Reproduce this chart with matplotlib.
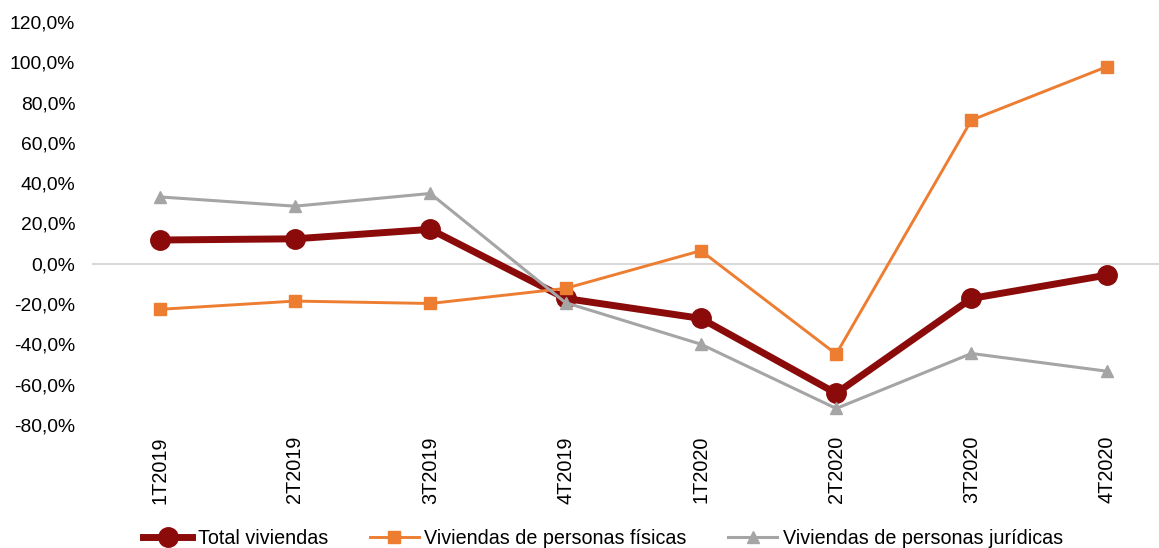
import numpy as np
import matplotlib.pyplot as plt
from matplotlib.ticker import FuncFormatter

plt.rcParams['font.family'] = ['Liberation Sans', 'DejaVu Sans']

# data
trimestres = ['1T2019', '2T2019', '3T2019', '4T2019', '1T2020', '2T2020', '3T2020', '4T2020']
total = [11.8, 12.4, 17.1, -17.2, -27.1, -64.3, -17.2, -5.6]
fisicas = [-22.6, -18.5, -19.7, -12.2, 6.5, -44.8, 71.3, 97.8]
juridicas = [33.2, 28.6, 34.9, -19.3, -39.9, -71.8, -44.5, -53.3]

series = [
    ('Total viviendas', total, '#8B0A0A', 'o', 5.0, 14),
    ('Viviendas de personas físicas', fisicas, '#ED7D31', 's', 2.1, 9),
    ('Viviendas de personas jurídicas', juridicas, '#A5A5A5', '^', 2.2, 9),
]

fig = plt.figure(figsize=(11.59, 5.48), dpi=100)
ax = fig.add_axes([92 / 1159, 1 - 425 / 548, 1 - 92 / 1159, (425 - 22) / 548])

x = np.arange(len(trimestres))
for name, vals, col, mk, lw, ms in series:
    ax.plot(x, vals, color=col, marker=mk, lw=lw, ms=ms, label=name)

ax.axhline(0, color='#D9D9D9', lw=1.5, zorder=0)

ax.set_ylim(-80, 120)
ax.set_yticks(np.arange(-80, 121, 20))
ax.yaxis.set_major_formatter(FuncFormatter(lambda v, p: ('%.1f%%' % v).replace('.', ',')))
ax.set_xlim(-0.5, 7.386)
ax.set_xticks(x)
ax.set_xticklabels(trimestres, rotation=90)
ax.tick_params(axis='both', length=0)
ax.tick_params(axis='x', pad=8, labelsize=14.3)
ax.tick_params(axis='y', pad=12, labelsize=13.9)
for s in ax.spines.values():
    s.set_visible(False)

ax.legend(loc='center', bbox_to_anchor=(0.479, -0.281),
          ncol=3, frameon=False, fontsize=14.2, handlelength=2.5, handletextpad=0.28,
          columnspacing=2.1)

fig.savefig('out.png', dpi=100)
